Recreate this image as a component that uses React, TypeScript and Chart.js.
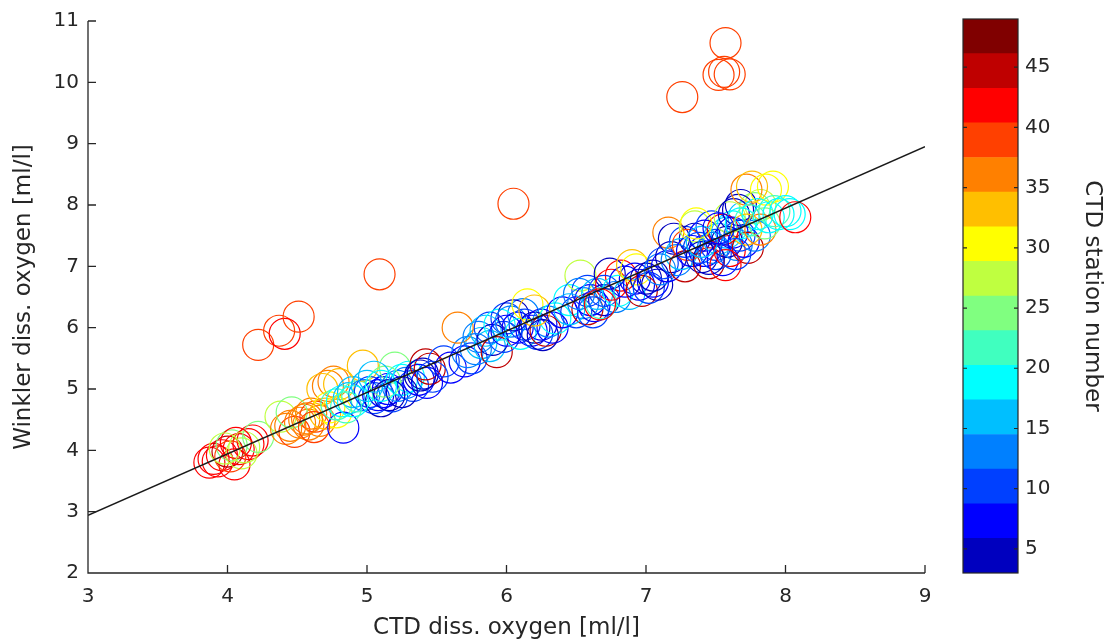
import React, { useEffect, useRef } from 'react';
import { Chart, registerables } from 'chart.js';
Chart.register(...registerables);

// CTD dissolved oxygen [ml/l]
const ctdOxygen = [
  4.22, 4.37, 4.41, 4.51, 5.09, 6.05, 7.26, 7.52, 7.56, 7.60, 7.57,
  3.87, 3.90, 3.93, 3.96, 4.00, 4.05, 4.03, 4.08, 4.10, 4.15, 4.18, 4.02, 4.12, 4.22, 4.06, 3.98,
  4.38, 4.42, 4.45, 4.48, 4.52, 4.55, 4.58, 4.60, 4.63, 4.66, 4.70, 4.72, 4.76, 4.46, 4.68, 4.73, 4.78, 4.62, 4.57, 4.80,
  4.83, 4.78, 4.82, 4.87, 4.90, 4.93, 4.97, 4.98, 5.02, 5.05, 5.08, 5.10, 5.12, 5.15, 5.18, 5.20, 5.22, 5.25, 5.28, 5.30,
  5.33, 5.37, 5.40, 5.42, 5.45, 5.43, 5.47, 5.00, 5.13, 5.16, 5.38, 5.05, 5.10, 5.25, 4.90, 4.85,
  5.55, 5.60, 5.72, 5.82, 5.88, 6.00, 6.12,
  5.65, 5.70, 5.75, 5.80, 5.85, 5.88, 5.90, 5.93, 5.95, 5.98, 6.00, 6.05, 6.03, 6.08, 6.10, 6.13, 6.15, 6.18, 6.20, 6.22,
  6.25, 6.28, 6.30, 6.33, 6.35, 6.20, 5.78, 6.26,
  6.40, 6.45, 6.58, 6.70, 6.82, 6.92,
  6.50, 6.53, 6.55, 6.58, 6.60, 6.63, 6.65, 6.68, 6.70, 6.74, 6.75, 6.78, 6.80, 6.85, 6.88, 6.90, 6.93, 6.95, 6.97, 7.00,
  7.02, 7.05, 7.08, 6.62, 6.45, 6.52, 6.67,
  7.05, 7.10, 7.15, 7.18, 7.28, 7.35, 7.42, 7.50, 7.58, 7.62, 7.70, 7.78, 7.82, 7.68,
  7.12, 7.16, 7.20, 7.22, 7.25, 7.28, 7.30, 7.33, 7.35, 7.38, 7.40, 7.42, 7.45, 7.47, 7.48, 7.50, 7.52, 7.55, 7.55, 7.58,
  7.60, 7.60, 7.62, 7.63, 7.66, 7.65, 7.67, 7.68, 7.70, 7.72, 7.72, 7.73, 7.76, 7.75, 7.78, 7.80, 7.82, 7.86, 7.85, 7.88,
  7.91, 7.92, 7.95, 8.00, 8.03, 8.07, 7.45, 7.40, 7.57, 7.36, 7.52, 7.64,
];

// Winkler dissolved oxygen [ml/l]
const winklerOxygen = [
  5.72, 5.95, 5.90, 6.18, 6.87, 8.02, 9.76, 10.12, 10.17, 10.13, 10.64,
  3.80, 3.86, 3.82, 3.92, 3.98, 3.77, 4.08, 4.02, 3.95, 4.10, 4.16, 3.90, 4.05, 4.22, 4.12, 4.03,
  4.55, 4.35, 4.40, 4.30, 4.45, 4.50, 4.42, 4.60, 4.55, 4.48, 4.60, 5.05, 5.12, 4.62, 5.00, 4.70, 4.62, 4.38, 4.52, 5.08,
  4.37, 4.75, 4.80, 4.85, 4.95, 4.88, 5.38, 4.90, 4.95, 4.85, 4.90, 4.80, 4.95, 5.00, 4.88, 5.35, 5.05, 5.15, 5.10, 5.20,
  5.05, 5.15, 5.25, 5.40, 5.33, 5.10, 5.20, 5.05, 5.12, 4.90, 5.22, 5.20, 5.05, 4.95, 4.80, 4.70,
  5.45, 5.35, 5.60, 5.75, 6.00, 6.15, 6.22,
  6.00, 5.45, 5.50, 5.85, 5.95, 5.70, 5.80, 5.60, 6.05, 5.85, 5.95, 6.20, 6.10, 6.00, 5.90, 6.05, 6.38, 5.95, 6.00, 5.90,
  6.05, 5.95, 6.10, 6.00, 6.15, 6.28, 5.65, 5.88,
  6.25, 6.45, 6.60, 6.45, 6.85, 6.80,
  6.25, 6.85, 6.40, 6.30, 6.45, 6.35, 6.55, 6.40, 6.60, 6.88, 6.70, 6.50, 6.60, 6.75, 6.55, 7.02, 6.95, 6.70, 6.60, 6.80,
  6.65, 6.75, 6.70, 6.25, 6.30, 6.55, 6.38,
  6.85, 6.95, 7.00, 7.15, 7.40, 7.45, 7.25, 7.35, 7.55, 7.65, 7.80, 7.95, 8.00, 8.00,
  7.05, 7.55, 7.45, 7.10, 7.20, 7.00, 7.35, 7.25, 7.65, 7.30, 7.15, 7.50, 7.05, 7.65, 7.30, 7.20, 7.45, 7.60, 7.10, 7.40,
  7.80, 7.25, 7.55, 7.85, 7.92, 7.35, 7.50, 7.70, 7.40, 8.25, 7.60, 7.30, 8.30, 7.75, 7.50, 7.85, 7.60, 8.25, 7.70, 7.80,
  8.30, 7.90, 7.85, 7.90, 7.85, 7.80, 7.12, 7.40, 7.02, 7.70, 7.62, 7.20,
];

// CTD station number of each sample
const stationNumber = [
  40, 40, 41, 40, 40, 40, 40, 40, 39, 40, 40,
  43, 42, 41, 43, 44, 42, 25, 43, 26, 42, 43, 40, 26, 25, 41, 26,
  26, 36, 37, 38, 36, 35, 37, 36, 38, 37, 33, 35, 36, 25, 34, 31, 29, 38, 36, 34,
  6, 22, 19, 17, 15, 21, 34, 13, 11, 9, 7, 5, 8, 6, 10, 25, 14, 18, 12, 20,
  9, 7, 4, 44, 46, 8, 11, 16, 24, 4, 5, 15, 18, 3, 20, 23,
  10, 6, 13, 16, 11, 9, 14,
  36, 7, 9, 12, 15, 17, 4, 44, 18, 10, 6, 5, 13, 8, 20, 11, 30, 7, 4, 9,
  6, 45, 12, 8, 19, 34, 14, 3,
  7, 18, 9, 4, 43, 8,
  10, 26, 14, 44, 8, 6, 17, 21, 9, 5, 43, 12, 20, 7, 15, 33, 31, 6, 44, 4,
  10, 8, 3, 11, 16, 13, 43,
  5, 12, 7, 3, 10, 4, 6, 9, 15, 20, 17, 25, 27, 3,
  9, 36, 4, 12, 15, 44, 38, 7, 28, 10, 5, 6, 44, 9, 13, 11, 17, 41, 8, 4,
  26, 43, 7, 5, 3, 14, 10, 18, 6, 36, 32, 45, 34, 22, 12, 20, 37, 31, 24, 19,
  30, 21, 18, 20, 19, 43, 3, 16, 42, 29, 8, 9,
];

// Least-squares fit line endpoints
const fitX = [3, 9];
const fitY = [2.94, 8.95];

const xTicks = [3, 4, 5, 6, 7, 8, 9];
const yTicks = [2, 3, 4, 5, 6, 7, 8, 9, 10, 11];
const cbTicks = [5, 10, 15, 20, 25, 30, 35, 40, 45];
const cbMin = 3;
const cbMax = 49;

// MATLAB jet(16)
const jet16: number[][] = [
  [0, 0, 0.75], [0, 0, 1], [0, 0.25, 1], [0, 0.5, 1], [0, 0.75, 1], [0, 1, 1],
  [0.25, 1, 0.75], [0.5, 1, 0.5], [0.75, 1, 0.25], [1, 1, 0], [1, 0.75, 0], [1, 0.5, 0],
  [1, 0.25, 0], [1, 0, 0], [0.75, 0, 0], [0.5, 0, 0],
];

const rgb = (c: number[]) => `rgb(${Math.round(c[0] * 255)},${Math.round(c[1] * 255)},${Math.round(c[2] * 255)})`;
const bandSize = (cbMax - cbMin) / jet16.length;
const stationColor = (s: number) => {
  const i = Math.min(jet16.length - 1, Math.max(0, Math.floor((s - cbMin) / bandSize)));
  return rgb(jet16[i]);
};

const FONT = "'DejaVu Sans', sans-serif";
const TEXT = '#262626';
const AXIS = '#262626';

const W = 1109;
const H = 643;
const PLOT_LEFT = 88;
const PLOT_RIGHT = 925;
const PLOT_TOP = 19;
const PLOT_BOTTOM = 573;

const CB_CANVAS_LEFT = 940;
const CB_CANVAS_W = W - CB_CANVAS_LEFT;
const CB_LEFT = 963;
const CB_RIGHT = 1018;

const axesPlugin = {
  id: 'matlabAxes',
  afterDraw(chart: any) {
    const { ctx, chartArea, scales } = chart;
    const { left, right, top, bottom } = chartArea;
    ctx.save();
    ctx.strokeStyle = AXIS;
    ctx.lineWidth = 1.3;
    ctx.beginPath();
    ctx.moveTo(left, top);
    ctx.lineTo(left, bottom);
    ctx.lineTo(right, bottom);
    const tl = 8;
    xTicks.forEach((v) => {
      const px = scales.x.getPixelForValue(v);
      ctx.moveTo(px, bottom);
      ctx.lineTo(px, bottom - tl);
    });
    yTicks.forEach((v) => {
      const py = scales.y.getPixelForValue(v);
      ctx.moveTo(left, py);
      ctx.lineTo(left + tl, py);
    });
    ctx.stroke();
    ctx.restore();
  },
};

const colorbarPlugin = {
  id: 'colorbarFrame',
  afterDraw(chart: any) {
    const { ctx, chartArea, scales } = chart;
    const { left, right, top, bottom } = chartArea;
    ctx.save();
    ctx.strokeStyle = AXIS;
    ctx.lineWidth = 1.2;
    ctx.strokeRect(left, top, right - left, bottom - top);
    ctx.beginPath();
    const tl = 4;
    cbTicks.forEach((v) => {
      const py = scales.y.getPixelForValue(v);
      ctx.moveTo(left, py);
      ctx.lineTo(left + tl, py);
      ctx.moveTo(right, py);
      ctx.lineTo(right - tl, py);
    });
    ctx.stroke();
    ctx.restore();
  },
};

export default function App() {
  const mainRef = useRef<HTMLCanvasElement>(null);
  const cbRef = useRef<HTMLCanvasElement>(null);

  useEffect(() => {
    const points = ctdOxygen.map((x, i) => ({ x, y: winklerOxygen[i] }));
    const colors = stationNumber.map(stationColor);
    const fitPoints = fitX.map((x, i) => ({ x, y: fitY[i] }));

    const main = new Chart(mainRef.current!, {
      type: 'scatter',
      data: {
        datasets: [
          {
            type: 'line',
            data: fitPoints,
            borderColor: '#1a1a1a',
            borderWidth: 1.5,
            pointRadius: 0,
            fill: false,
            order: 0,
          } as any,
          {
            data: points,
            pointRadius: 15.5,
            pointBorderWidth: 1.2,
            pointBorderColor: colors,
            pointBackgroundColor: 'rgba(0,0,0,0)',
            order: 1,
          },
        ],
      },
      options: {
        animation: false,
        responsive: true,
        maintainAspectRatio: false,
        layout: { padding: { top: PLOT_TOP, right: W - PLOT_RIGHT, left: 0, bottom: 0 } },
        plugins: { legend: { display: false }, tooltip: { enabled: false } },
        scales: {
          x: {
            type: 'linear',
            min: 3,
            max: 9,
            afterBuildTicks: (s: any) => { s.ticks = xTicks.map((v) => ({ value: v })); },
            afterFit: (s: any) => { s.height = H - PLOT_BOTTOM; },
            grid: { display: false, drawTicks: false },
            border: { display: false },
            ticks: { color: TEXT, font: { family: FONT, size: 20 }, padding: 12, autoSkip: false, maxRotation: 0 },
            title: {
              display: true,
              text: 'CTD diss. oxygen [ml/l]',
              color: TEXT,
              font: { family: FONT, size: 23 },
              padding: { top: 0, bottom: 1 },
            },
          },
          y: {
            type: 'linear',
            min: 2,
            max: 11,
            afterBuildTicks: (s: any) => { s.ticks = yTicks.map((v) => ({ value: v })); },
            afterFit: (s: any) => { s.width = PLOT_LEFT; },
            grid: { display: false, drawTicks: false },
            border: { display: false },
            ticks: { color: TEXT, font: { family: FONT, size: 20 }, padding: 9, autoSkip: false },
            title: {
              display: true,
              text: 'Winkler diss. oxygen [ml/l]',
              color: TEXT,
              font: { family: FONT, size: 23 },
              padding: { top: 10, bottom: 0 },
            },
          },
        },
      },
      plugins: [axesPlugin],
    });

    const cb = new Chart(cbRef.current!, {
      type: 'bar',
      data: {
        labels: ['cb'],
        datasets: jet16.map((c, i) => ({
          data: [[cbMin + i * bandSize, cbMin + (i + 1) * bandSize]] as any,
          backgroundColor: rgb(c),
          borderColor: rgb(c),
          borderWidth: 0,
          barPercentage: 1,
          categoryPercentage: 1,
          grouped: false,
        })),
      },
      options: {
        animation: false,
        responsive: true,
        maintainAspectRatio: false,
        layout: { padding: { top: PLOT_TOP, left: CB_LEFT - CB_CANVAS_LEFT, right: 0, bottom: H - PLOT_BOTTOM } },
        plugins: { legend: { display: false }, tooltip: { enabled: false } },
        scales: {
          x: { display: false },
          y: {
            type: 'linear',
            position: 'right',
            min: cbMin,
            max: cbMax,
            afterBuildTicks: (s: any) => { s.ticks = cbTicks.map((v) => ({ value: v })); },
            afterFit: (s: any) => { s.width = CB_CANVAS_LEFT + CB_CANVAS_W - CB_RIGHT; },
            grid: { display: false, drawTicks: false },
            border: { display: false },
            ticks: { color: TEXT, font: { family: FONT, size: 20 }, padding: 7, autoSkip: false },
            title: {
              display: true,
              text: 'CTD station number',
              color: TEXT,
              font: { family: FONT, size: 23 },
              padding: { top: 3, bottom: 0 },
            },
          },
        },
      },
      plugins: [colorbarPlugin],
    });

    return () => {
      main.destroy();
      cb.destroy();
    };
  }, []);

  return (
    <div style={{ position: 'fixed', left: 0, top: 0, width: W, height: H, background: '#fff' }}>
      <div style={{ position: 'absolute', left: 0, top: 0, width: W, height: H }}>
        <canvas ref={mainRef} />
      </div>
      <div style={{ position: 'absolute', left: CB_CANVAS_LEFT, top: 0, width: CB_CANVAS_W, height: H }}>
        <canvas ref={cbRef} />
      </div>
    </div>
  );
}
